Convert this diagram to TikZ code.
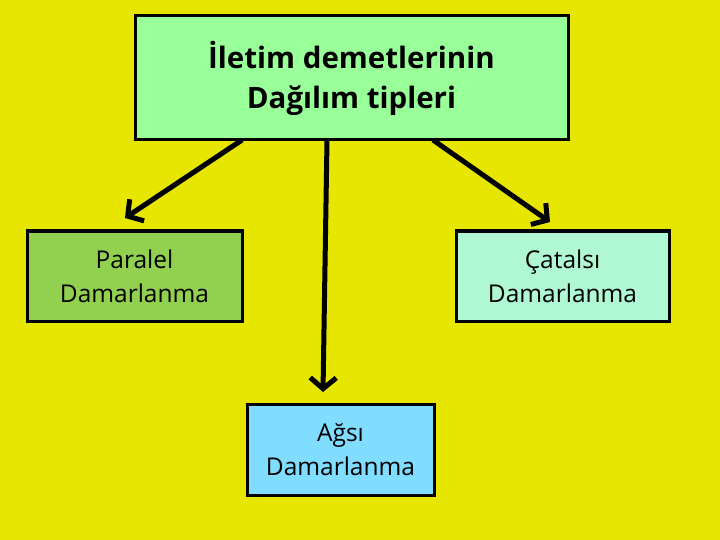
\documentclass[tikz,border=0pt]{standalone}
\usepackage{fontspec}
\setmainfont{Open Sans}
\usetikzlibrary{arrows.meta}
\definecolor{bgy}{HTML}{E6E600}
\definecolor{topg}{HTML}{99FF99}
\definecolor{leftg}{HTML}{92D050}
\definecolor{rightg}{HTML}{B0F8D4}
\definecolor{botb}{HTML}{80DDFF}
\tikzset{
  box/.style={draw=black,line width=3pt,rectangle,align=center,inner sep=0pt},
  small/.style={font=\fontsize{24.5}{34}\selectfont},
  conn/.style={line width=5pt,-{Straight Barb[length=11pt,width=26pt]}},
}
\begin{document}
\begin{tikzpicture}[x=1pt,y=-1pt]
\fill[bgy] (0,0) rectangle (720,540);
\useasboundingbox (0,0) rectangle (720,540);
\node[box,fill=topg,minimum width=433pt,minimum height=124pt,font=\fontsize{29.5}{40}\selectfont\bfseries] (top) at (351.5,78) {İletim demetlerinin\\Dağılım tipleri};
\node[box,small,fill=leftg,minimum width=215pt,minimum height=90pt] (left) at (134.5,276) {Paralel\\Damarlanma};
\node[box,small,fill=rightg,minimum width=213pt,minimum height=90pt] (right) at (562.5,276) {Çatalsı\\Damarlanma};
\node[box,small,fill=botb,minimum width=187pt,minimum height=91pt] (bot) at (340.5,449.5) {Ağsı\\Damarlanma};
\coordinate (s1) at (242,140);
\coordinate (s2) at (327,140);
\coordinate (s3) at (433,140);
\coordinate (e1) at (125,218);
\coordinate (e2) at (323,392);
\coordinate (e3) at (550,222);
\draw[conn] (s1) -- (e1);
\draw[conn] (s2) -- (e2);
\draw[conn] (s3) -- (e3);
\end{tikzpicture}
\end{document}
